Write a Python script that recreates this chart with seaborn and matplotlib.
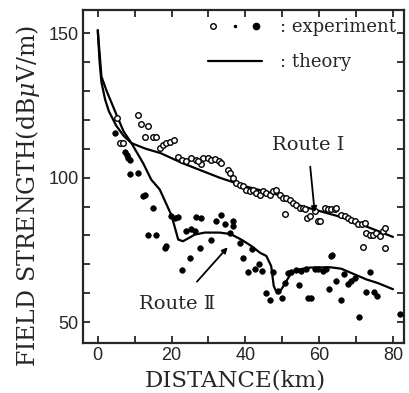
import numpy as np
import pandas as pd
import matplotlib
matplotlib.use("Agg")
import matplotlib.pyplot as plt
import seaborn as sns
from matplotlib.lines import Line2D
from matplotlib.legend_handler import HandlerTuple

# theory curves
th1_x = [0, 0.5, 1, 2, 3, 5, 7, 9.1, 10, 13, 17, 23, 27, 33, 40, 49, 53, 60, 67, 73, 80]
th1_y = [151, 140, 133, 127, 123, 118, 114.5, 112, 111.5, 110, 108.5, 105, 103, 100,
         97, 94, 91, 88.5, 86, 83, 79.5]
th2_x = [0, 1, 2.4, 5, 7, 9.1, 12.3, 14.5, 16.8, 20, 21.8, 23.1, 26.3, 29, 33, 36, 39,
         41.7, 44, 45.7, 47, 47.7, 48.6, 49.8, 51.1, 52.5, 54.7, 57.5, 63, 66, 72.8, 76, 80]
th2_y = [151, 135, 130, 122, 116, 112, 105, 99.3, 95.9, 86.9, 78.6, 78, 80.3, 81, 81,
         80.5, 78.5, 76.3, 74, 72.9, 69.4, 62.5, 60, 61.4, 64.2, 67.1, 68.3, 68.9, 69,
         68.5, 64.8, 63.5, 61.4]

# experiment, route I (open circles)
e1_x = [5.3, 6.0, 6.9, 10.8, 11.8, 13.6, 12.9, 15.0, 15.9, 16.8, 17.7, 18.6, 19.5, 20.7,
        21.8, 22.8, 24.0, 25.4, 26.7, 27.9, 28.5, 27.2, 29.9, 30.8, 31.7, 32.8, 33.5,
        35.3, 35.8, 36.7, 37.6, 38.5, 39.4, 40.3, 41.2, 42.1, 43.0, 43.9, 44.8, 45.7,
        46.6, 47.5, 48.4, 49.3, 50.2, 51.1, 52.0, 52.9, 53.8, 54.7, 55.6, 56.1, 50.7,
        56.6, 57.5, 59.7, 60.2, 58.8, 61.5, 62.4, 63.3, 64.2, 64.7, 66.0, 66.9, 67.8,
        68.7, 69.6, 70.6, 71.5, 72.4, 72.8, 73.7, 74.6, 75.5, 76.4, 77.3, 77.8, 71.9, 77.8]
e1_y = [120.6, 112.0, 112.0, 121.7, 118.4, 117.9, 113.9, 113.9, 113.9, 110.2, 111.4,
        112.0, 112.5, 113.1, 107.3, 106.2, 105.6, 106.8, 106.2, 104.8, 106.8, 105.6,
        106.8, 106.2, 106.4, 105.6, 105.0, 102.8, 101.6, 99.9, 98.2, 97.6, 97.0, 95.9,
        95.3, 95.9, 94.7, 94.1, 95.3, 94.7, 94.1, 95.3, 95.9, 94.1, 93.0, 93.0, 92.4,
        91.3, 90.7, 89.6, 89.6, 89.0, 87.6, 86.1, 86.7, 85.0, 85.0, 88.4, 89.6, 89.0,
        89.0, 89.0, 89.6, 87.2, 86.7, 86.1, 85.5, 85.0, 83.8, 83.8, 84.4, 81.0, 80.3,
        80.3, 81.0, 79.8, 81.5, 82.7, 76.1, 75.8]

# experiment, route II (filled dots)
e2_x = [4.6, 7.3, 7.8, 8.2, 8.7, 8.7, 10.9, 12.3, 12.9, 15.0, 13.6, 15.9, 18.2, 18.6,
        19.9, 20.9, 21.8, 24.0, 25.4, 26.3, 26.7, 28.1, 27.6, 24.9, 22.8, 32.1, 33.5,
        34.4, 36.7, 35.8, 36.7, 30.8, 38.5, 41.7, 39.4, 43.7, 42.5, 40.7, 44.6, 47.5,
        45.7, 46.6, 48.9, 49.8, 51.6, 52.5, 53.8, 55.2, 56.4, 50.7, 54.6, 57.0, 58.8,
        59.7, 61.1, 61.8, 63.6, 66.8, 64.7, 67.8, 68.7, 69.6, 73.7, 62.7, 57.9, 65.9,
        72.8, 74.8, 75.7, 70.8, 63.3, 82.0]
e2_y = [115.4, 109.0, 108.0, 106.8, 106.2, 101.4, 101.6, 93.8, 94.1, 89.6, 80.0, 80.0,
        75.8, 76.3, 86.9, 86.1, 86.4, 81.5, 82.1, 81.5, 86.4, 86.1, 75.8, 72.3, 68.0,
        84.9, 87.2, 83.8, 84.9, 80.9, 83.2, 78.6, 77.5, 75.4, 72.3, 70.3, 68.3, 67.3,
        67.7, 67.3, 60.0, 57.7, 60.8, 58.2, 66.9, 67.3, 68.0, 67.7, 68.3, 63.7, 62.8,
        58.5, 68.5, 68.3, 67.7, 68.3, 73.1, 66.6, 64.2, 63.1, 64.2, 65.4, 67.3, 61.4,
        58.5, 57.6, 60.5, 60.5, 58.9, 51.8, 72.9, 52.8]

sns.set_style("ticks")
plt.rcParams["mathtext.fontset"] = "dejavuserif"
serif = ["DejaVu Serif"]
roman = ["DejaVu Serif", "Noto Sans CJK JP"]

fig = plt.figure(figsize=(4.10, 3.93), dpi=100)
ax = fig.add_axes([83 / 410, 50 / 393, 321 / 410, 333 / 393])

th1 = pd.DataFrame({"x": th1_x, "y": th1_y})
th2 = pd.DataFrame({"x": th2_x, "y": th2_y})
sns.lineplot(data=th1, x="x", y="y", color="black", lw=1.6, estimator=None, sort=False, ax=ax)
sns.lineplot(data=th2, x="x", y="y", color="black", lw=1.6, estimator=None, sort=False, ax=ax)
sns.scatterplot(x=e1_x, y=e1_y, marker="o", s=16, facecolor="white", edgecolor="black",
                linewidth=1.0, ax=ax, zorder=3)
sns.scatterplot(x=e2_x, y=e2_y, marker="o", s=16, color="black", edgecolor="black",
                linewidth=0.5, ax=ax, zorder=3)

ax.set_xlim(-4, 83)
ax.set_ylim(42.8, 158)
ax.set_xticks([0, 20, 40, 60, 80])
ax.set_yticks([50, 100, 150])
ax.set_xticks(np.arange(0, 81, 10), minor=True)
ax.set_yticks(np.arange(50, 151, 10), minor=True)
ax.tick_params(which="both", direction="in", length=5, width=1.3, top=True, right=True,
               labelsize=13, pad=3)
for lab in ax.get_xticklabels() + ax.get_yticklabels():
    lab.set_family("Liberation Sans")
for sp in ax.spines.values():
    sp.set_linewidth(1.6)

ax.set_xlabel("DISTANCE(km)", family=serif, fontsize=16.5)
ax.set_ylabel(r"FIELD STRENGTH(dB$\mu$V/m)", family=serif, fontsize=17)
ax.xaxis.set_label_coords(0.475, -0.08)
ax.yaxis.set_label_coords(-0.128, 0.44)

# legend
h_open = Line2D([], [], ls="", marker="o", ms=4, mfc="white", mec="black", mew=1.0)
h_dot = Line2D([], [], ls="", marker="o", ms=1.5, mfc="black", mec="black")
h_fill = Line2D([], [], ls="", marker="o", ms=4.5, mfc="black", mec="black")
h_line = Line2D([], [], color="black", lw=1.6)
ax.legend([(h_open, h_dot, h_fill), h_line], [": experiment", ": theory"],
          handler_map={tuple: HandlerTuple(ndivide=None, pad=0.6)},
          loc="upper right", bbox_to_anchor=(1.0, 1.0), frameon=False,
          prop={"family": serif, "size": 13}, handlelength=3.0, handletextpad=1.0,
          labelspacing=0.95, borderpad=0.25, borderaxespad=0.2)

# route labels
ax.annotate("Route Ⅰ", xy=(58.8, 88), xytext=(57, 111.4), ha="center", va="center",
            family=roman, fontsize=14,
            arrowprops=dict(arrowstyle="-|>", color="black", lw=1.3, mutation_scale=8,
                            shrinkA=7, shrinkB=0))
ax.annotate("Route Ⅱ", xy=(35.2, 75.9), xytext=(21.4, 56.2), ha="center", va="center",
            family=roman, fontsize=14,
            arrowprops=dict(arrowstyle="-|>", color="black", lw=1.3, mutation_scale=8,
                            shrinkA=10, shrinkB=0))

fig.savefig("out.png", dpi=100)
